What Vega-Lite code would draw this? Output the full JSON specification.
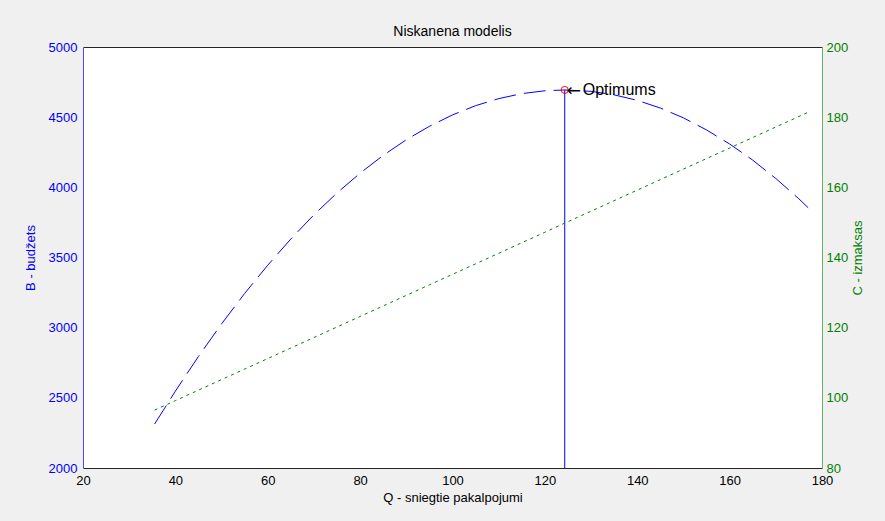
{
  "$schema": "https://vega.github.io/schema/vega-lite/v6.json",
  "width": 739,
  "height": 421,
  "autosize": {"type": "none"},
  "padding": {"left": 83, "top": 47, "right": 63, "bottom": 53},
  "background": "#f0f0f0",
  "view": {"fill": "white", "stroke": null},
  "title": {"text": "Niskanena modelis", "font": "Liberation Sans", "fontSize": 14, "fontWeight": "normal", "color": "black", "offset": 2},
  "config": {
    "axis": {"labelFont": "Liberation Sans", "titleFont": "Liberation Sans", "labelFontSize": 13, "titleFontSize": 13, "titleFontWeight": "normal", "grid": false, "domainWidth": 1, "ticks": false, "tickSize": 0, "labelFlush": false, "format": "d", "zindex": 1}
  },
  "datasets": {
    "curves": [
      {"Q": 35.5, "B": 2313, "C": 96.5},
      {"Q": 40, "B": 2548, "C": 99.2},
      {"Q": 45, "B": 2795, "C": 102.2},
      {"Q": 50, "B": 3027, "C": 105.2},
      {"Q": 55, "B": 3244, "C": 108.2},
      {"Q": 60, "B": 3445, "C": 111.2},
      {"Q": 65, "B": 3632, "C": 114.2},
      {"Q": 70, "B": 3804, "C": 117.2},
      {"Q": 75, "B": 3960, "C": 120.2},
      {"Q": 80, "B": 4101, "C": 123.2},
      {"Q": 85, "B": 4228, "C": 126.2},
      {"Q": 90, "B": 4339, "C": 129.2},
      {"Q": 95, "B": 4435, "C": 132.2},
      {"Q": 100, "B": 4516, "C": 135.2},
      {"Q": 105, "B": 4582, "C": 138.2},
      {"Q": 110, "B": 4632, "C": 141.2},
      {"Q": 115, "B": 4668, "C": 144.2},
      {"Q": 120, "B": 4688, "C": 147.2},
      {"Q": 124.3, "B": 4694, "C": 149.8},
      {"Q": 130, "B": 4684, "C": 153.2},
      {"Q": 135, "B": 4659, "C": 156.2},
      {"Q": 140, "B": 4620, "C": 159.2},
      {"Q": 145, "B": 4565, "C": 162.2},
      {"Q": 150, "B": 4495, "C": 165.2},
      {"Q": 155, "B": 4409, "C": 168.2},
      {"Q": 160, "B": 4309, "C": 171.2},
      {"Q": 165, "B": 4194, "C": 174.2},
      {"Q": 170, "B": 4063, "C": 177.2},
      {"Q": 175, "B": 3918, "C": 180.2},
      {"Q": 177, "B": 3855, "C": 181.4}
    ],
    "opt": [{"Q": 124.3, "B": 4694, "arrow": "←", "label": "Optimums"}]
  },
  "layer": [
    {
      "layer": [
        {
          "data": {"name": "curves"},
          "mark": {"type": "line", "color": "#0000ff", "strokeWidth": 1, "strokeDash": [22, 8], "clip": true},
          "encoding": {
            "x": {"field": "Q", "type": "quantitative", "scale": {"domain": [20, 180], "nice": false},
              "axis": {"orient": "bottom", "values": [20, 40, 60, 80, 100, 120, 140, 160, 180], "title": "Q - sniegtie pakalpojumi", "labelColor": "black", "titleColor": "black", "domainColor": "#262626", "labelPadding": 6, "titlePadding": 4}},
            "y": {"field": "B", "type": "quantitative", "scale": {"domain": [2000, 5000], "nice": false, "zero": false},
              "axis": {"orient": "left", "values": [2000, 2500, 3000, 3500, 4000, 4500, 5000], "title": "B - budžets", "labelColor": "#0000ff", "titleColor": "#0000ff", "domainColor": "#4d4dff", "labelPadding": 6, "titlePadding": 11}}
          }
        },
        {
          "data": {"name": "opt"},
          "mark": {"type": "rule", "color": "#0000ff", "strokeWidth": 1},
          "encoding": {
            "x": {"field": "Q", "type": "quantitative"},
            "y": {"field": "B", "type": "quantitative"},
            "y2": {"datum": 2000}
          }
        },
        {
          "data": {"name": "opt"},
          "mark": {"type": "point", "shape": "circle", "filled": false, "color": "#ff0000", "size": 50, "strokeWidth": 1, "opacity": 1},
          "encoding": {
            "x": {"field": "Q", "type": "quantitative"},
            "y": {"field": "B", "type": "quantitative"}
          }
        },
        {
          "data": {"name": "opt"},
          "mark": {"type": "text", "align": "left", "baseline": "middle", "dx": 2, "dy": 1, "font": "DejaVu Sans", "fontSize": 17, "color": "black"},
          "encoding": {
            "x": {"field": "Q", "type": "quantitative"},
            "y": {"field": "B", "type": "quantitative"},
            "text": {"field": "arrow"}
          }
        },
        {
          "data": {"name": "opt"},
          "mark": {"type": "text", "align": "left", "baseline": "middle", "dx": 18, "font": "Liberation Sans", "fontSize": 16, "color": "black"},
          "encoding": {
            "x": {"field": "Q", "type": "quantitative"},
            "y": {"field": "B", "type": "quantitative"},
            "text": {"field": "label"}
          }
        }
      ]
    },
    {
      "data": {"name": "curves"},
      "mark": {"type": "line", "color": "#008000", "strokeWidth": 1, "strokeDash": [3, 4]},
      "encoding": {
        "x": {"field": "Q", "type": "quantitative", "scale": {"domain": [20, 180], "nice": false},
          "axis": {"orient": "top", "labels": false, "title": null, "domainColor": "#262626"}},
        "y": {"field": "C", "type": "quantitative", "scale": {"domain": [80, 200], "nice": false, "zero": false},
          "axis": {"orient": "right", "values": [80, 100, 120, 140, 160, 180, 200], "title": "C - izmaksas", "titleAngle": -90, "labelColor": "#008000", "titleColor": "#008000", "domainColor": "#66b366", "labelPadding": 4, "titlePadding": 17}}
      }
    }
  ],
  "resolve": {"scale": {"y": "independent"}, "axis": {"x": "independent", "y": "independent"}}
}
